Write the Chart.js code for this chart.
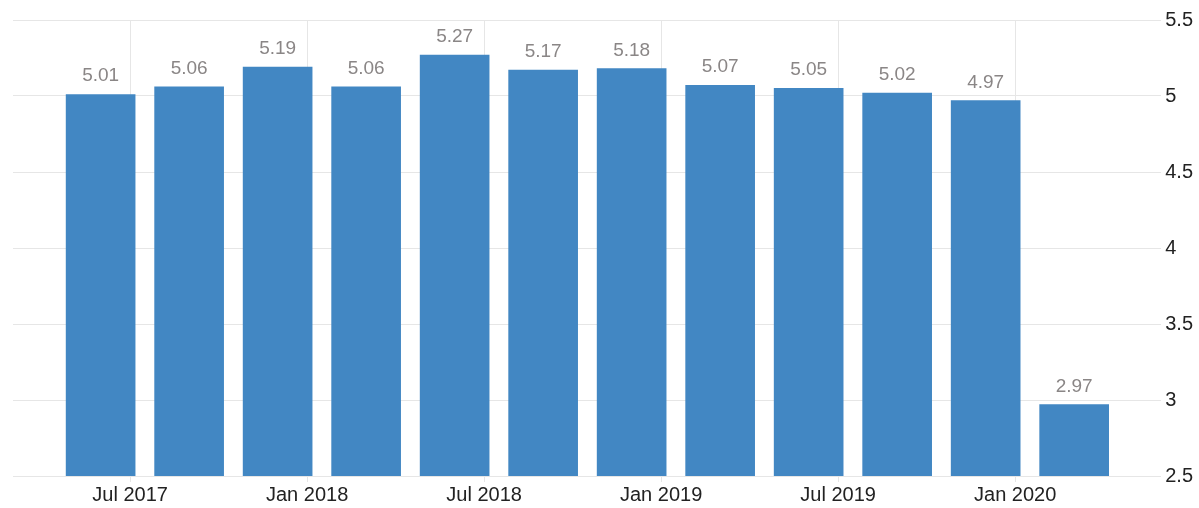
<!DOCTYPE html>
<html>
<head>
<meta charset="utf-8">
<script src="https://cdn.jsdelivr.net/npm/chart.js@4/dist/chart.umd.min.js"></script>
<style>
  html, body { margin: 0; padding: 0; background: #fff; }
  #wrap { width: 1199px; height: 508px; position: relative; }
</style>
</head>
<body>
<div id="wrap"><canvas id="c"></canvas></div>
<script>
// quarterly readings, dated by month
const periods = ['2017-06', '2017-09', '2017-12', '2018-03', '2018-06', '2018-09',
                 '2018-12', '2019-03', '2019-06', '2019-09', '2019-12', '2020-03'];
const values = [5.01, 5.06, 5.19, 5.06, 5.27, 5.17, 5.18, 5.07, 5.05, 5.02, 4.97, 2.97];
const xTickLabels = ['Jul 2017', 'Jan 2018', 'Jul 2018', 'Jan 2019', 'Jul 2019', 'Jan 2020'];
const yTicks = [2.5, 3, 3.5, 4, 4.5, 5, 5.5];

const MONTHS = ['Jan','Feb','Mar','Apr','May','Jun','Jul','Aug','Sep','Oct','Nov','Dec'];
const BASE_YEAR = 2017;
const monthIndex = (y, m) => (y - BASE_YEAR) * 12 + m;
const periodToX = p => { const [y, m] = p.split('-').map(Number); return monthIndex(y, m - 1); };
const labelToX = l => { const [mon, y] = l.split(' '); return monthIndex(Number(y), MONTHS.indexOf(mon)); };
const tickPos = xTickLabels.map(labelToX);

const GRID = '#e6e6e6';
const FONT = '"Liberation Sans", Arial, sans-serif';

const valueLabels = {
  id: 'valueLabels',
  afterDatasetsDraw(chart) {
    const { ctx } = chart;
    const meta = chart.getDatasetMeta(0);
    ctx.save();
    ctx.font = '19px ' + FONT;
    ctx.fillStyle = '#8a8686';
    ctx.textAlign = 'center';
    ctx.textBaseline = 'alphabetic';
    meta.data.forEach((bar, i) => {
      ctx.fillText(values[i].toFixed(2), bar.x, bar.y - 13);
    });
    ctx.restore();
  }
};

new Chart(document.getElementById('c'), {
  type: 'bar',
  data: {
    datasets: [{
      data: periods.map((p, i) => ({ x: periodToX(p), y: values[i] })),
      backgroundColor: '#4287c3',
      borderWidth: 0,
      barThickness: 69
    }]
  },
  options: {
    animation: false,
    responsive: true,
    maintainAspectRatio: false,
    layout: { padding: { left: 13, right: 2, top: 20, bottom: 0 } },
    plugins: { legend: { display: false }, tooltip: { enabled: false } },
    scales: {
      x: {
        type: 'linear',
        offset: false,
        min: 2.03,
        max: 40.95,
        afterBuildTicks: axis => { axis.ticks = tickPos.map(v => ({ value: v })); },
        ticks: {
          autoSkip: false,
          maxRotation: 0,
          padding: 3,
          color: '#222',
          font: { family: FONT, size: 20, lineHeight: 1 },
          callback: v => xTickLabels[tickPos.indexOf(v)]
        },
        grid: { color: GRID, tickColor: GRID, tickLength: 6, offset: false },
        border: { display: false }
      },
      y: {
        position: 'right',
        min: 2.5,
        max: 5.5,
        afterBuildTicks: axis => { axis.ticks = yTicks.map(v => ({ value: v })); },
        ticks: {
          padding: 4,
          color: '#222',
          font: { family: FONT, size: 20 },
          callback: v => String(v)
        },
        grid: { color: GRID, drawTicks: false },
        border: { display: false }
      }
    }
  },
  plugins: [valueLabels]
});
</script>
</body>
</html>
